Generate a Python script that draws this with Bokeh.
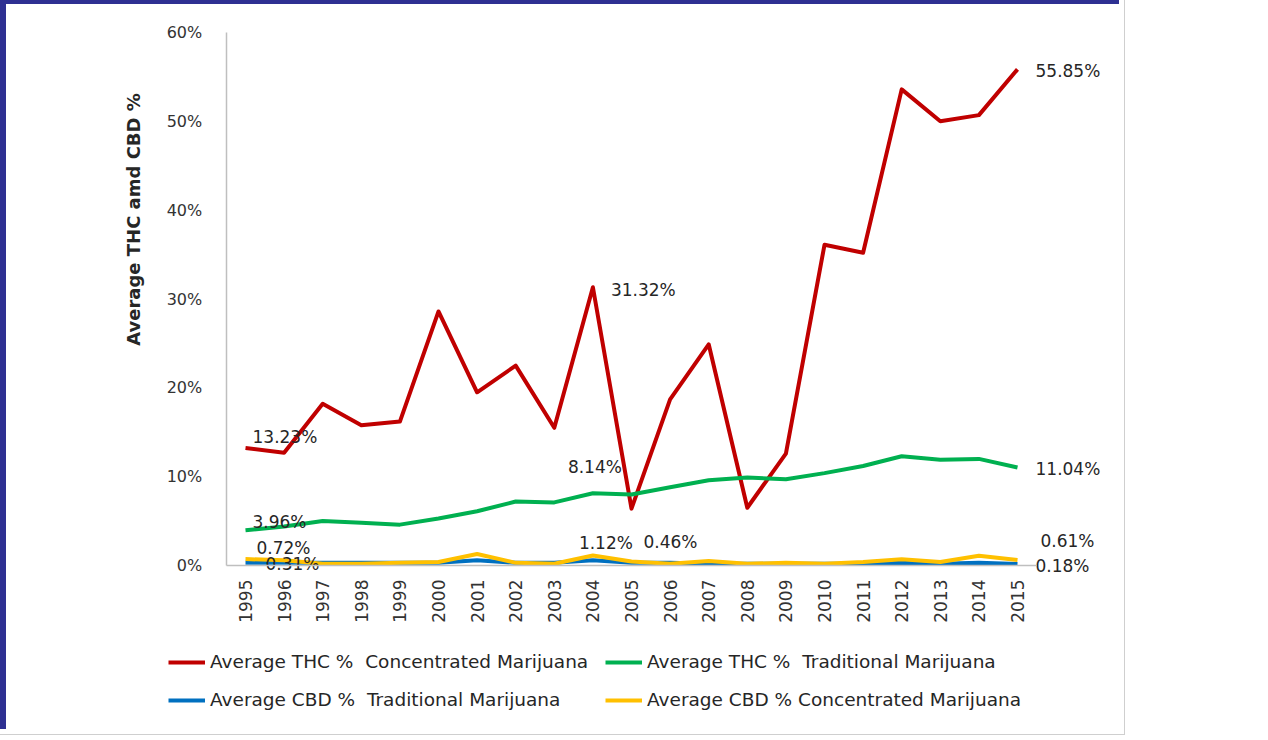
from math import pi
from bokeh.plotting import figure
from bokeh.models import (ColumnDataSource, Legend, LegendItem, Label,
                          FixedTicker, PrintfTickFormatter, Range1d)
from bokeh.core.properties import value
from bokeh.embed import file_html
from bokeh.resources import INLINE

# ---------------- data ----------------
years = list(range(1995, 2016))
thc_concentrated = [13.23, 12.7, 18.2, 15.8, 16.2, 28.6, 19.5, 22.5, 15.5, 31.32, 6.4,
                    18.7, 24.9, 6.5, 12.6, 36.1, 35.2, 53.6, 50.0, 50.7, 55.85]
thc_traditional = [3.96, 4.4, 5.0, 4.8, 4.6, 5.3, 6.1, 7.2, 7.1, 8.14, 8.0,
                   8.8, 9.6, 9.9, 9.7, 10.4, 11.2, 12.3, 11.9, 12.0, 11.04]
cbd_traditional = [0.31, 0.3, 0.3, 0.3, 0.3, 0.3, 0.6, 0.3, 0.3, 0.6, 0.3,
                   0.3, 0.2, 0.2, 0.2, 0.2, 0.2, 0.3, 0.2, 0.3, 0.18]
cbd_concentrated = [0.72, 0.6, 0.2, 0.2, 0.3, 0.4, 1.3, 0.3, 0.2, 1.12, 0.46,
                    0.2, 0.5, 0.2, 0.3, 0.2, 0.4, 0.7, 0.4, 1.1, 0.61]

series_names = ["Average THC %  Concentrated Marijuana",
                "Average THC %  Traditional Marijuana",
                "Average CBD %  Traditional Marijuana",
                "Average CBD % Concentrated Marijuana"]
series_values = [thc_concentrated, thc_traditional, cbd_traditional, cbd_concentrated]
series_colors = ["#C00000", "#00B050", "#0070C0", "#FFC000"]

y_ticks = [0, 10, 20, 30, 40, 50, 60]
y_axis_title = "Average THC amd CBD %"

# labelled points: (series index, year)
label_points = [(0, 1995), (1, 1995), (3, 1995), (2, 1995),
                (1, 2004), (0, 2004), (3, 2004), (3, 2005),
                (0, 2015), (1, 2015), (3, 2015), (2, 2015)]

# ---------------- layout (pixels, style only) ----------------
label_offsets = [(7, -11), (7, -8), (11, -11), (20, 1),
                 (-25, -26), (18, 3), (-14, -13), (12, -19),
                 (18, 2), (18, 2), (23, -19), (18, 2)]

BL, BT = 6, 4               # left / top border widths (canvas offset on page)
CW, CH = 1119, 729          # canvas size
PX_X0, PX_X1 = 245, 1017    # page x of first / last year
PX_Y0, PX_Y60 = 565, 32     # page y of 0% and 60%

kx = (PX_X1 - PX_X0) / (years[-1] - years[0])
ky = (PX_Y0 - PX_Y60) / (y_ticks[-1] - y_ticks[0])
x_start = years[0] - (PX_X0 - BL) / kx
x_end = x_start + CW / kx
y_end = y_ticks[-1] + (PX_Y60 - BT) / ky
y_start = y_end - CH / ky


def page_to_data(px, py):
    return x_start + (px - BL) / kx, y_end - (py - BT) / ky


FONT = "DejaVu Sans"
TEXT_COLOR = "#262626"
TICK_COLOR = "#333333"

p = figure(width=CW, height=CH, output_backend="svg", toolbar_location=None,
           x_range=Range1d(x_start, x_end), y_range=Range1d(y_start, y_end),
           min_border=0, min_border_left=0, min_border_right=0,
           min_border_top=0, min_border_bottom=0)
p.styles = {"border-top": "4px solid #2e3092", "border-left": "6px solid #2e3092",
            "outline": "1px solid #cfcfcf", "outline-offset": "5px"}
p.outline_line_color = None
p.xgrid.grid_line_color = None
p.ygrid.grid_line_color = None
p.background_fill_color = "white"
p.border_fill_color = "white"

# axes at fixed location inside the frame
x_lo, x_hi = years[0] - 0.5, years[-1] + 0.5
p.xaxis.fixed_location = 0
p.xaxis.bounds = (x_lo, x_hi)
p.xaxis.ticker = FixedTicker(ticks=years)
p.xaxis.major_label_orientation = pi / 2
p.xaxis.major_label_text_font = FONT
p.xaxis.major_label_text_font_size = "17px"
p.xaxis.major_label_text_color = TICK_COLOR
p.xaxis.major_label_standoff = 8
p.xaxis.major_tick_line_color = None
p.xaxis.minor_tick_line_color = None
p.xaxis.axis_line_color = "#bfbfbf"
p.xaxis.axis_line_width = 1.5

p.yaxis.fixed_location = x_lo
p.yaxis.bounds = (y_ticks[0], y_ticks[-1])
p.yaxis.ticker = FixedTicker(ticks=y_ticks)
p.yaxis.formatter = PrintfTickFormatter(format="%d%%")
p.yaxis.major_label_text_font = FONT
p.yaxis.major_label_text_font_size = "16px"
p.yaxis.major_label_text_color = TICK_COLOR
p.yaxis.major_label_standoff = 18
p.yaxis.major_tick_line_color = None
p.yaxis.minor_tick_line_color = None
p.yaxis.axis_line_color = "#bfbfbf"
p.yaxis.axis_line_width = 1.5

renderers = []
for vals, col in zip(series_values, series_colors):
    r = p.line(years, vals, line_width=4, line_color=col, line_join="round")
    renderers.append(r)

# data labels
lx, ly, lt, xo, yo = [], [], [], [], []
for (si, yr), (dx, dy) in zip(label_points, label_offsets):
    v = series_values[si][years.index(yr)]
    lx.append(yr)
    ly.append(v)
    lt.append(f"{v:.2f}%")
    xo.append(dx)
    yo.append(dy)
src = ColumnDataSource(dict(x=lx, y=ly, t=lt, xo=xo, yo=yo))
p.text(x="x", y="y", text="t", x_offset="xo", y_offset="yo", source=src,
       text_font=value(FONT), text_font_size="17px", text_color=TEXT_COLOR,
       text_align="left", text_baseline="middle")

# y axis title placed like the original (off-centre)
tx, ty = page_to_data(133, 219)
p.add_layout(Label(x=tx, y=ty, text=y_axis_title, angle=pi / 2, text_align="center",
                   text_baseline="middle", text_font=FONT, text_font_size="18px",
                   text_font_style="bold", text_color=TEXT_COLOR))

# legends: 2x2 grid below the plot (screen px from frame bottom-left)
col_x = [168, 605]
row_bottom = [672, 710]
legend_cells = [(0, 0), (1, 0), (0, 1), (1, 1)]
for name, r, (ci, ri) in zip(series_names, renderers, legend_cells):
    loc = (col_x[ci] - BL, (BT + CH) - row_bottom[ri])
    leg = Legend(items=[LegendItem(label=name, renderers=[r])], location=loc,
                 padding=0, margin=0, spacing=0, glyph_width=37, glyph_height=20,
                 label_height=20, label_standoff=5, border_line_color=None,
                 background_fill_alpha=0, label_text_font=FONT,
                 label_text_font_size="18.5px", label_text_color=TEXT_COLOR)
    p.add_layout(leg)

open("out.html", "w").write(file_html(p, INLINE))
